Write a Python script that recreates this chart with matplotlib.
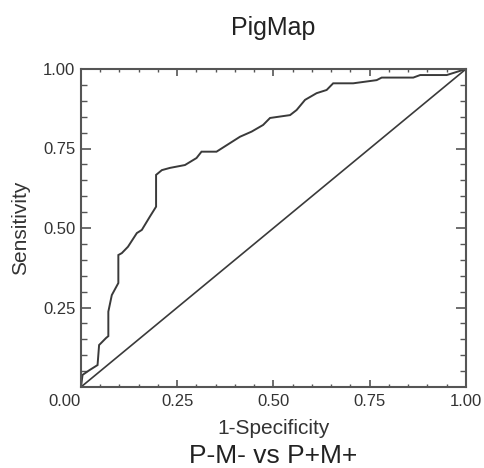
import matplotlib
matplotlib.use("Agg")
import matplotlib.pyplot as plt
from matplotlib.ticker import MultipleLocator, FuncFormatter

# ROC curve
fpr = [0.000, 0.004, 0.022, 0.043, 0.047, 0.052, 0.065, 0.071, 0.071, 0.080,
       0.097, 0.097, 0.106, 0.122, 0.145, 0.158, 0.179, 0.195, 0.195, 0.210,
       0.231, 0.270, 0.300, 0.313, 0.352, 0.387, 0.413, 0.443, 0.473, 0.491,
       0.543, 0.560, 0.582, 0.612, 0.638, 0.655, 0.707, 0.768, 0.781, 0.863,
       0.881, 0.950, 1.000]
tpr = [0.000, 0.038, 0.053, 0.069, 0.132, 0.138, 0.154, 0.160, 0.237, 0.289,
       0.327, 0.415, 0.421, 0.441, 0.484, 0.494, 0.536, 0.567, 0.667, 0.682,
       0.689, 0.698, 0.720, 0.740, 0.740, 0.767, 0.787, 0.803, 0.824, 0.846,
       0.855, 0.871, 0.903, 0.924, 0.934, 0.955, 0.955, 0.965, 0.973, 0.973,
       0.981, 0.981, 1.000]
diag = [0.0, 1.0]
tick_vals = [0.0, 0.25, 0.5, 0.75, 1.0]

plt.rcParams['font.family'] = ['Liberation Sans', 'DejaVu Sans']

fig = plt.figure(figsize=(4.85, 4.68), dpi=100)
ax = fig.add_axes([81/485, 1-387/468, 385/485, 318/468])

lc = '#3a3a3a'
ax.plot(fpr, tpr, color=lc, lw=1.4, solid_joinstyle='miter')
ax.plot(diag, diag, color=lc, lw=1.2)

ax.set_xlim(0, 1)
ax.set_ylim(0, 1)
ax.set_xticks(tick_vals)
ax.set_yticks(tick_vals)
ax.xaxis.set_minor_locator(MultipleLocator(0.05))
ax.yaxis.set_minor_locator(MultipleLocator(0.05))
ax.xaxis.set_major_formatter(FuncFormatter(lambda v, p: '%.2f' % v))
ax.yaxis.set_major_formatter(FuncFormatter(lambda v, p: '' if v == 0 else '%.2f' % v))

for s in ax.spines.values():
    s.set_color('#555555')
    s.set_linewidth(1.5)

ax.tick_params(which='both', direction='in', top=True, right=True,
               color='#555555', labelcolor='#333333', labelsize=12)
ax.tick_params(axis='x', which='major', length=5, width=1.2, pad=5)
ax.tick_params(axis='x', which='minor', length=2.5, width=1.0)
ax.tick_params(axis='y', which='major', length=7, width=1.2, pad=4)
ax.tick_params(axis='y', which='minor', length=4, width=1.0)

fig.canvas.draw()
xt = ax.get_xticklabels()
xt[0].set_horizontalalignment('right')
xt[0].set_x(0.0)

ax.set_xlabel('1-Specificity', fontsize=15, color='#333333')
ax.set_ylabel('Sensitivity', fontsize=15, color='#333333')
ax.xaxis.set_label_coords(0.5, (387-428)/318)
ax.xaxis.label.set_va('center')
ax.yaxis.set_label_coords((21-81)/385, 0.5)
ax.yaxis.label.set_va('center')

fig.text(273/485, 1-28/468, 'PigMap', ha='center', va='center',
         fontsize=18, color='#222222')
fig.text(273/485, 1-456/468, 'P-M- vs P+M+', ha='center', va='center',
         fontsize=19, color='#222222')

fig.savefig('out.png', dpi=100)
